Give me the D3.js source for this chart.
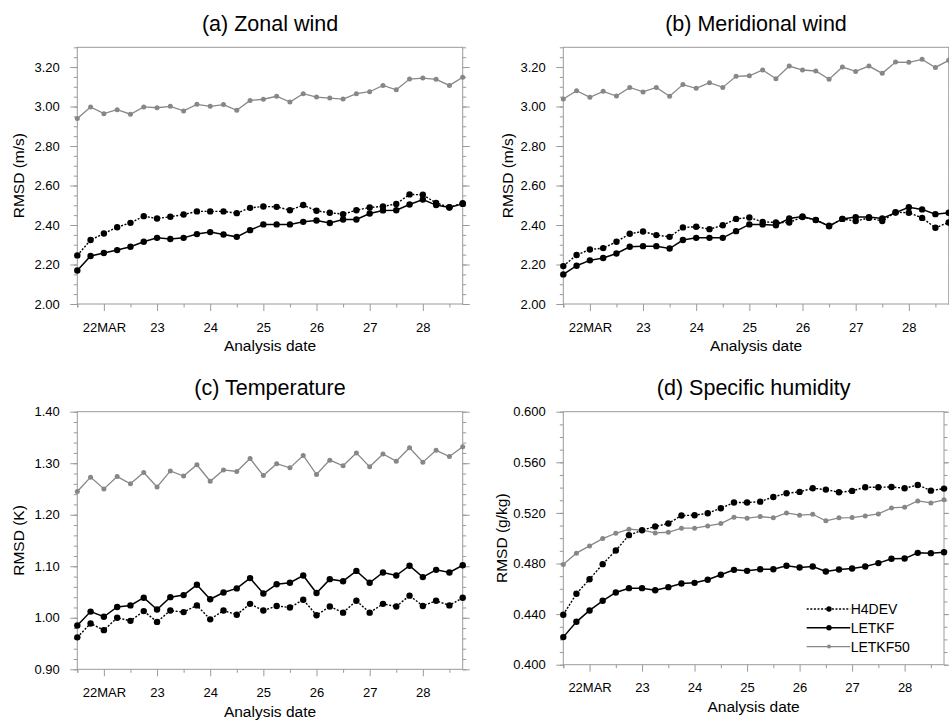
<!DOCTYPE html>
<html>
<head>
<meta charset="utf-8">
<script src="https://cdn.jsdelivr.net/npm/d3@7"></script>
<style>
	body { margin: 0; background: #fff; }
	svg { display: block; font-family: 'Liberation Sans', Arial, Helvetica, sans-serif; }
</style>
</head>
<body>
<svg id="main-plot"></svg>
<script>
// analysis times, in days of March (6-hourly, 21 12Z .. 28 18Z)
var times = [21.5, 21.75, 22, 22.25, 22.5, 22.75, 23, 23.25, 23.5, 23.75,
	24, 24.25, 24.5, 24.75, 25, 25.25, 25.5, 25.75, 26, 26.25,
	26.5, 26.75, 27, 27.25, 27.5, 27.75, 28, 28.25, 28.5, 28.75];
var dayTicks = [22, 23, 24, 25, 26, 27, 28];
var dayLabels = ['22MAR', '23', '24', '25', '26', '27', '28'];
var halfDayTicks = [21.5, 22.5, 23.5, 24.5, 25.5, 26.5, 27.5, 28.5];

var seriesNames = ['H4DEV', 'LETKF', 'LETKF50'];

// (a) zonal wind
var zonalH4DEV = [2.246, 2.324, 2.357, 2.389, 2.411, 2.445, 2.433, 2.442, 2.453, 2.469,
	2.469, 2.469, 2.460, 2.487, 2.494, 2.492, 2.475, 2.501, 2.472, 2.462,
	2.455, 2.475, 2.489, 2.494, 2.507, 2.555, 2.553, 2.512, 2.490, 2.511];
var zonalLETKF = [2.170, 2.243, 2.258, 2.273, 2.290, 2.315, 2.335, 2.329, 2.335, 2.354,
	2.364, 2.352, 2.340, 2.374, 2.403, 2.403, 2.403, 2.416, 2.423, 2.410,
	2.428, 2.428, 2.458, 2.474, 2.475, 2.504, 2.529, 2.501, 2.489, 2.507];
var zonalLETKF50 = [2.940, 2.998, 2.964, 2.984, 2.961, 2.998, 2.994, 3.001, 2.978, 3.011,
	3.001, 3.010, 2.981, 3.031, 3.037, 3.052, 3.023, 3.065, 3.048, 3.043,
	3.038, 3.065, 3.075, 3.107, 3.085, 3.139, 3.144, 3.138, 3.107, 3.148];

// (b) meridional wind
var meridH4DEV = [2.192, 2.248, 2.276, 2.283, 2.315, 2.356, 2.367, 2.349, 2.340, 2.388,
	2.391, 2.379, 2.399, 2.431, 2.438, 2.416, 2.413, 2.413, 2.440, 2.426,
	2.396, 2.431, 2.420, 2.436, 2.420, 2.465, 2.462, 2.436, 2.386, 2.413];
var meridLETKF = [2.150, 2.194, 2.221, 2.233, 2.256, 2.290, 2.293, 2.293, 2.281, 2.324,
	2.335, 2.335, 2.335, 2.369, 2.403, 2.403, 2.399, 2.433, 2.443, 2.425,
	2.394, 2.431, 2.440, 2.440, 2.433, 2.463, 2.490, 2.479, 2.455, 2.462];
var meridLETKF50 = [3.038, 3.080, 3.047, 3.077, 3.053, 3.097, 3.074, 3.097, 3.052, 3.111,
	3.092, 3.121, 3.097, 3.153, 3.156, 3.185, 3.141, 3.205, 3.185, 3.180,
	3.138, 3.200, 3.178, 3.205, 3.168, 3.225, 3.224, 3.239, 3.198, 3.234];

// (c) temperature
var tempH4DEV = [0.962, 0.989, 0.976, 1.000, 0.994, 1.013, 0.992, 1.014, 1.011, 1.024,
	0.997, 1.014, 1.006, 1.027, 1.014, 1.023, 1.020, 1.035, 1.005, 1.022,
	1.010, 1.033, 1.010, 1.027, 1.022, 1.043, 1.023, 1.033, 1.024, 1.039];
var tempLETKF = [0.985, 1.012, 1.002, 1.021, 1.024, 1.039, 1.016, 1.040, 1.044, 1.064,
	1.036, 1.049, 1.057, 1.077, 1.047, 1.065, 1.068, 1.082, 1.048, 1.075,
	1.071, 1.091, 1.068, 1.088, 1.082, 1.101, 1.079, 1.093, 1.088, 1.102];
var tempLETKF50 = [1.245, 1.273, 1.250, 1.274, 1.260, 1.282, 1.254, 1.285, 1.275, 1.297,
	1.265, 1.287, 1.284, 1.309, 1.276, 1.299, 1.291, 1.315, 1.278, 1.306,
	1.295, 1.320, 1.293, 1.318, 1.304, 1.330, 1.302, 1.325, 1.313, 1.332];

// (d) specific humidity
var humH4DEV = [0.4395, 0.4561, 0.4676, 0.4795, 0.4903, 0.5024, 0.5063, 0.5092, 0.5116, 0.5179,
	0.5182, 0.5197, 0.5237, 0.5282, 0.5282, 0.5289, 0.5326, 0.5355, 0.5366, 0.5395,
	0.5384, 0.5363, 0.5374, 0.5403, 0.5403, 0.5405, 0.5395, 0.5421, 0.5376, 0.5392];
var humLETKF = [0.4218, 0.4339, 0.4429, 0.4505, 0.4571, 0.4605, 0.4605, 0.4589, 0.4613, 0.4642,
	0.4647, 0.4671, 0.4711, 0.4750, 0.4742, 0.4755, 0.4755, 0.4782, 0.4768, 0.4776,
	0.4737, 0.4753, 0.4761, 0.4776, 0.4803, 0.4837, 0.4839, 0.4884, 0.4882, 0.4889];
var humLETKF50 = [0.4792, 0.4882, 0.4939, 0.4997, 0.5039, 0.5071, 0.5063, 0.5042, 0.5047, 0.5079,
	0.5079, 0.5097, 0.5116, 0.5166, 0.5158, 0.5171, 0.5161, 0.5200, 0.5182, 0.5189,
	0.5137, 0.5161, 0.5163, 0.5176, 0.5192, 0.5239, 0.5245, 0.5295, 0.5279, 0.5303];

var windTicks = [2.00, 2.20, 2.40, 2.60, 2.80, 3.00, 3.20];
var tempTicks = [0.90, 1.00, 1.10, 1.20, 1.30, 1.40];
var humTicks = [0.400, 0.440, 0.480, 0.520, 0.560, 0.600];

window.onload = function init() {
	'use strict';

	var width = 949,
		height = 722,
		frameColor = '#9a9a9a',
		grey = '#878787',
		svg = d3.select('svg#main-plot').attr('width', width).attr('height', height);

	var panels = [
		{title: '(a) Zonal wind', ylabel: 'RMSD (m/s)', left: 77.3, top: 47.3, w: 385.4, h: 256.7,
			domain: [2.0, 3.3], ticks: windTicks, minor: 26, fmt: '.2f', labelX: -53.3,
			series: [zonalLETKF50, zonalLETKF, zonalH4DEV]},
		{title: '(b) Meridional wind', ylabel: 'RMSD (m/s)', left: 563.3, top: 47.3, w: 385.4, h: 256.7,
			domain: [2.0, 3.3], ticks: windTicks, minor: 26, fmt: '.2f', labelX: -50,
			series: [meridLETKF50, meridLETKF, meridH4DEV]},
		{title: '(c) Temperature', ylabel: 'RMSD (K)', left: 77.3, top: 411.7, w: 385.4, h: 257.6,
			domain: [0.9, 1.4], ticks: tempTicks, minor: 25, fmt: '.2f', labelX: -53.3,
			series: [tempLETKF50, tempLETKF, tempH4DEV]},
		{title: '(d) Specific humidity', ylabel: 'RMSD (g/kg)', left: 563.3, top: 411.7, w: 380.7, h: 253,
			domain: [0.4, 0.6], ticks: humTicks, minor: 20, fmt: '.3f', labelX: -56,
			series: [humLETKF50, humLETKF, humH4DEV], legend: true}
	];

	// drawing styles for LETKF50, LETKF, H4DEV
	var styles = [
		{color: grey, width: 1.3, dash: null, r: 2.5},
		{color: '#000', width: 1.5, dash: null, r: 3.2},
		{color: '#000', width: 1.4, dash: '2,1.6', r: 3.2}
	];

	panels.forEach(drawPanel);

	function styleAxis(sel) {
		sel.select('.domain').remove();
		sel.selectAll('.tick line').attr('stroke', frameColor);
		sel.selectAll('.tick text').attr('fill', '#000').attr('font-size', 13);
	}

	function drawPanel(p) {
		var g = svg.append('g').attr('transform', 'translate(' + p.left + ',' + p.top + ')'),
			x = d3.scaleLinear().domain([21.5, 28.75]).range([0, p.w]),
			y = d3.scaleLinear().domain(p.domain).range([p.h, 0]),
			minorTicks = d3.ticks(p.domain[0], p.domain[1], p.minor);

		// minor ticks
		g.append('g').attr('transform', 'translate(0,' + p.h + ')')
			.call(d3.axisBottom(x).tickValues(halfDayTicks.concat([21.5])).tickSize(3.5).tickFormat(''))
			.call(styleAxis);
		g.append('g')
			.call(d3.axisLeft(y).tickValues(minorTicks).tickSize(3.5).tickFormat(''))
			.call(styleAxis);
		g.append('g').attr('transform', 'translate(' + p.w + ',0)')
			.call(d3.axisRight(y).tickValues(minorTicks).tickSize(3.5).tickFormat(''))
			.call(styleAxis);

		// major ticks
		g.append('g').attr('transform', 'translate(0,' + p.h + ')')
			.call(d3.axisBottom(x).tickValues(dayTicks).tickSize(7).tickPadding(11.5)
				.tickFormat(function(d, i) { return dayLabels[i]; }))
			.call(styleAxis);
		g.append('g')
			.call(d3.axisLeft(y).tickValues(p.ticks).tickSize(7).tickPadding(10.5).tickFormat(d3.format(p.fmt)))
			.call(styleAxis);
		g.append('g').attr('transform', 'translate(' + p.w + ',0)')
			.call(d3.axisRight(y).tickValues(p.ticks).tickSize(7).tickFormat(''))
			.call(styleAxis);

		g.append('rect')
			.attr('width', p.w)
			.attr('height', p.h)
			.attr('fill', 'none')
			.attr('stroke', frameColor)
			.attr('stroke-width', 1);

		var line = d3.line()
			.x(function(d, i) { return x(times[i]); })
			.y(function(d) { return y(d); });

		p.series.forEach(function(values, k) {
			var s = styles[k];
			g.append('path')
				.datum(values)
				.attr('d', line)
				.attr('fill', 'none')
				.attr('stroke', s.color)
				.attr('stroke-width', s.width)
				.attr('stroke-dasharray', s.dash);
			g.append('g').selectAll('circle')
				.data(values)
				.enter()
				.append('circle')
				.attr('cx', function(d, i) { return x(times[i]); })
				.attr('cy', function(d) { return y(d); })
				.attr('r', s.r)
				.attr('fill', s.color);
		});

		g.append('text')
			.attr('x', p.w / 2)
			.attr('y', -16.8)
			.attr('text-anchor', 'middle')
			.attr('font-size', 21.5)
			.text(p.title);

		g.append('text')
			.attr('x', p.w / 2)
			.attr('y', p.h + 47.5)
			.attr('text-anchor', 'middle')
			.attr('font-size', 15.5)
			.text('Analysis date');

		g.append('text')
			.attr('transform', 'translate(' + p.labelX + ',' + p.h / 2 + ') rotate(-90)')
			.attr('text-anchor', 'middle')
			.attr('font-size', 15.5)
			.text(p.ylabel);

		if (p.legend) drawLegend(g, p);
	}

	function drawLegend(g, p) {
		// rows in legend order: H4DEV, LETKF, LETKF50
		var order = [2, 1, 0],
			lx = 806.7 - p.left,
			ly = 609 - p.top;
		order.forEach(function(k, row) {
			var s = styles[k],
				yy = ly + row * 18.8;
			g.append('line')
				.attr('x1', lx).attr('x2', lx + 43.5)
				.attr('y1', yy).attr('y2', yy)
				.attr('stroke', s.color)
				.attr('stroke-width', s.width)
				.attr('stroke-dasharray', s.dash);
			g.append('circle')
				.attr('cx', lx + 22.3).attr('cy', yy)
				.attr('r', s.r - 0.5)
				.attr('fill', s.color);
			g.append('text')
				.attr('x', lx + 44)
				.attr('y', yy)
				.attr('dy', '0.36em')
				.attr('font-size', 14)
				.text(seriesNames[2 - k]);
		});
	}
};
</script>
</body>
</html>
